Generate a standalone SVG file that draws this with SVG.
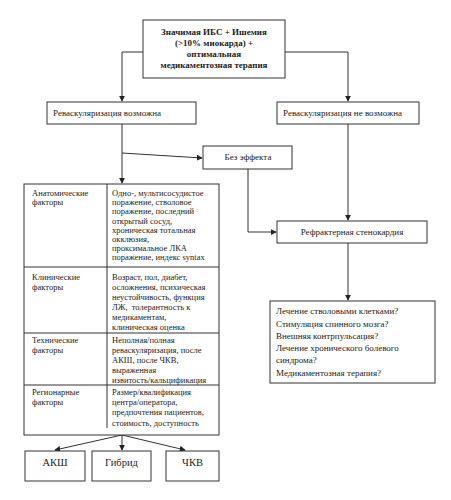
<svg xmlns="http://www.w3.org/2000/svg" width="451" height="500" viewBox="0 0 451 500">
<style>
rect.b{fill:#fff;stroke:#333;stroke-width:1}
.t{font-family:"Liberation Serif","Times New Roman",serif;fill:#222}
.s{font-size:9px}
.x{font-size:8.5px}
.h{font-size:9px;font-weight:bold;text-anchor:middle}
.m{text-anchor:middle}
.l{font-size:10.5px;text-anchor:middle}
#connectors path,#connectors line{fill:none;stroke:#333;stroke-width:1}
</style>
<defs>
<marker id="arr" viewBox="0 0 8 8" refX="7" refY="4" markerWidth="6" markerHeight="6" orient="auto" markerUnits="userSpaceOnUse">
<path d="M0,0 L8,4 L0,8 z" fill="#222"/>
</marker>
</defs>
<rect width="451" height="500" fill="#fff"/>
<g id="connectors">
<path d="M143,52 H122 V101" marker-end="url(#arr)"/>
<path d="M285,52 H348 V101" marker-end="url(#arr)"/>
<path d="M122,124 V183" marker-end="url(#arr)"/>
<path d="M122,153 L202,158" marker-end="url(#arr)"/>
<path d="M348,124 V220" marker-end="url(#arr)"/>
<path d="M248,169 V232 H276" marker-end="url(#arr)"/>
<path d="M348,243 V300" marker-end="url(#arr)"/>
<path d="M122,435 L55,450" marker-end="url(#arr)"/>
<path d="M122,435 V450" marker-end="url(#arr)"/>
<path d="M122,435 L185,450" marker-end="url(#arr)"/>
</g>
<g id="top">
<rect class="b" x="143" y="20" width="142" height="58"/>
<text class="t h" x="214" y="35">Значимая ИБС + Ишемия</text>
<text class="t h" x="214" y="46">(&gt;10% миокарда) +</text>
<text class="t h" x="214" y="57">оптимальная</text>
<text class="t h" x="214" y="68">медикаментозная терапия</text>
</g>
<g id="revasc-yes">
<rect class="b" x="47" y="102" width="149" height="22"/>
<text class="t s" x="53" y="116">Реваскуляризация возможна</text>
</g>
<g id="revasc-no">
<rect class="b" x="277" y="102" width="142" height="22"/>
<text class="t s" x="283" y="116">Реваскуляризация не возможна</text>
</g>
<g id="no-effect">
<rect class="b" x="203" y="146" width="89" height="23"/>
<text class="t s m" x="248" y="160">Без эффекта</text>
</g>
<g id="refractory">
<rect class="b" x="277" y="221" width="150" height="22"/>
<text class="t s m" x="352" y="235">Рефрактерная стенокардия</text>
</g>
<g id="options">
<rect class="b" x="270" y="301" width="165" height="82"/>
<text class="t s" x="276" y="314">Лечение стволовыми клетками?</text>
<text class="t s" x="276" y="326.5">Стимуляция спинного мозга?</text>
<text class="t s" x="276" y="339">Внешняя контрпульсация?</text>
<text class="t s" x="276" y="351">Лечение хронического болевого</text>
<text class="t s" x="276" y="363">синдрома?</text>
<text class="t s" x="276" y="375.5">Медикаментозная терапия?</text>
</g>
<g id="factors">
<rect class="b" x="24" y="184" width="195" height="251"/>
<line x1="107" y1="184" x2="107" y2="428" stroke="#333"/>
<line x1="24" y1="267" x2="219" y2="267" stroke="#333"/>
<line x1="24" y1="333" x2="219" y2="333" stroke="#333"/>
<line x1="24" y1="385" x2="219" y2="385" stroke="#333"/>
<text class="t x" x="32" y="196">Анатомические</text>
<text class="t x" x="32" y="205.2">факторы</text>
<text class="t x" x="112" y="196">Одно-, мультисосудистое</text>
<text class="t x" x="112" y="205.2">поражение, стволовое</text>
<text class="t x" x="112" y="214.4">поражение, последний</text>
<text class="t x" x="112" y="223.6">открытый сосуд,</text>
<text class="t x" x="112" y="232.8">хроническая тотальная</text>
<text class="t x" x="112" y="242">окклюзия,</text>
<text class="t x" x="112" y="251.2">проксимальное ЛКА</text>
<text class="t x" x="112" y="260.4">поражение, индекс syntax</text>
<text class="t x" x="32" y="280">Клинические</text>
<text class="t x" x="32" y="290">факторы</text>
<text class="t x" x="112" y="280">Возраст, пол, диабет,</text>
<text class="t x" x="112" y="290">осложнения, психическая</text>
<text class="t x" x="112" y="300">неустойчивость, функция</text>
<text class="t x" x="112" y="310" xml:space="preserve">ЛЖ,  толерантность к</text>
<text class="t x" x="112" y="320">медикаментам,</text>
<text class="t x" x="112" y="330">клиническая оценка</text>
<text class="t x" x="32" y="343">Технические</text>
<text class="t x" x="32" y="353">факторы</text>
<text class="t x" x="112" y="343">Неполная/полная</text>
<text class="t x" x="112" y="353">реваскуляризация, после</text>
<text class="t x" x="112" y="362.5">АКШ, после ЧКВ,</text>
<text class="t x" x="112" y="372.5">выраженная</text>
<text class="t x" x="112" y="382.5">извитость/кальцификация</text>
<text class="t x" x="32" y="395">Регионарные</text>
<text class="t x" x="32" y="405">факторы</text>
<text class="t x" x="112" y="395">Размер/квалификация</text>
<text class="t x" x="112" y="405">центра/оператора,</text>
<text class="t x" x="112" y="415">предпочтения пациентов,</text>
<text class="t x" x="112" y="425.5">стоимость, доступность</text>
</g>
<g id="cabg">
<rect class="b" x="25" y="451" width="60" height="30"/>
<text class="t l" x="55" y="466">АКШ</text>
</g>
<g id="hybrid">
<rect class="b" x="92" y="451" width="59" height="30"/>
<text class="t l" x="121.5" y="466">Гибрид</text>
</g>
<g id="pci">
<rect class="b" x="166" y="451" width="53" height="30"/>
<text class="t l" x="192.5" y="466">ЧКВ</text>
</g>
</svg>
